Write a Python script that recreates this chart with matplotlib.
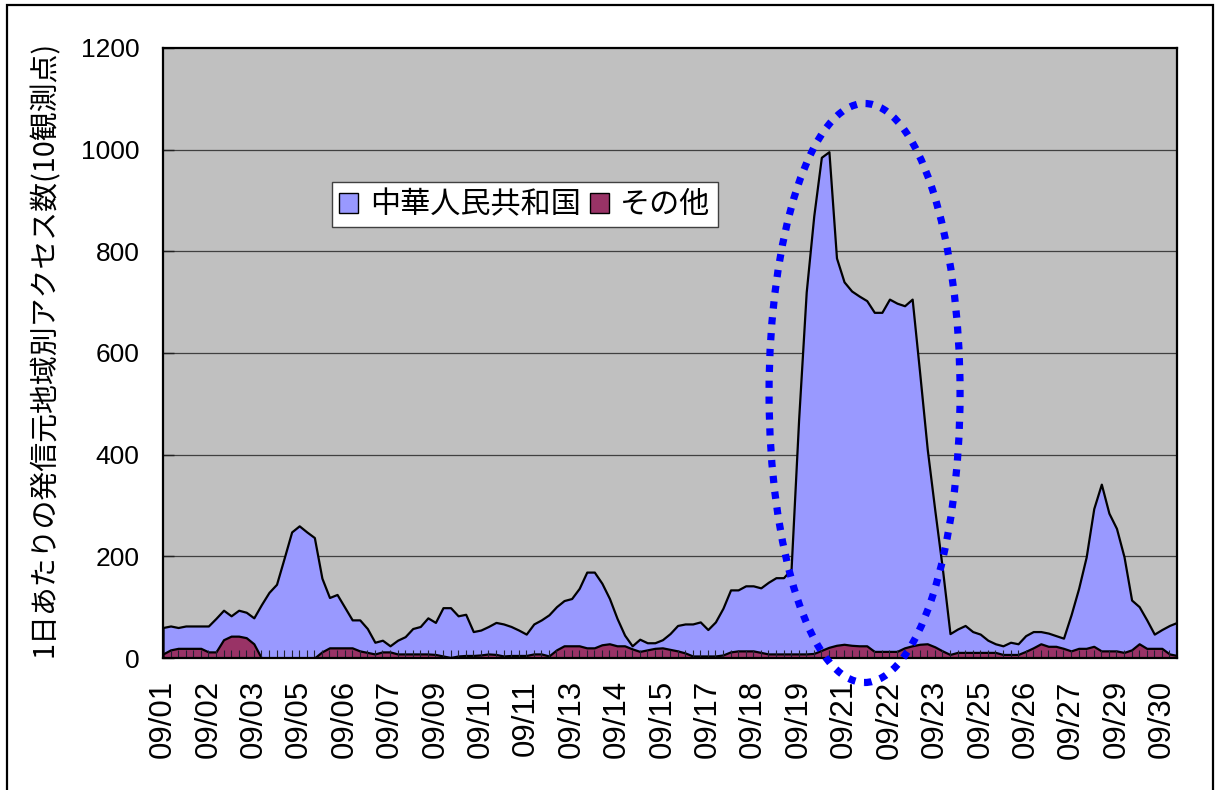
import matplotlib
matplotlib.use("Agg")
import matplotlib.pyplot as plt
import numpy as np
from matplotlib.patches import Ellipse, Rectangle, Patch
from matplotlib.font_manager import FontProperties

# Access counts per time slot (3 slots every 2 days -> 135 slots over 09/01..09/30)
china = [60, 63, 60, 63, 63, 63, 63, 78, 94, 83,
         94, 90, 79, 105, 129, 145, 196, 248, 260, 248,
         237, 157, 119, 125, 100, 75, 75, 58, 31, 35,
         24, 35, 42, 58, 62, 79, 70, 99, 99, 83,
         86, 52, 55, 62, 70, 67, 62, 55, 47, 67,
         75, 85, 101, 113, 117, 137, 169, 169, 147, 117,
         78, 45, 24, 37, 30, 30, 36, 48, 64, 67,
         67, 71, 56, 71, 98, 134, 134, 142, 142, 138,
         149, 158, 158, 175, 470, 720, 870, 985, 996, 787,
         740, 722, 712, 703, 680, 680, 706, 698, 693, 706,
         560, 410, 290, 175, 48, 57, 64, 52, 47, 35,
         28, 24, 31, 28, 44, 52, 52, 49, 44, 39,
         85, 137, 199, 294, 342, 285, 255, 199, 114, 101,
         75, 47, 56, 64, 70]

other = [8, 16, 19, 19, 19, 19, 12, 12, 36, 43,
         43, 40, 28, 0, 0, 0, 0, 0, 0, 0,
         0, 12, 20, 20, 20, 20, 14, 11, 8, 12,
         12, 8, 8, 8, 8, 8, 7, 4, 1, 4,
         5, 5, 6, 8, 7, 4, 5, 5, 5, 8,
         8, 4, 16, 24, 24, 24, 20, 20, 26, 28,
         24, 24, 18, 13, 16, 19, 20, 17, 14, 10,
         4, 4, 4, 4, 6, 12, 14, 14, 14, 11,
         8, 8, 8, 8, 8, 8, 9, 15, 21, 25,
         27, 25, 24, 24, 13, 13, 13, 13, 20, 24,
         27, 28, 22, 14, 7, 11, 11, 11, 11, 11,
         11, 7, 7, 7, 13, 20, 28, 23, 23, 19,
         14, 19, 19, 23, 14, 14, 14, 11, 16, 28,
         19, 19, 19, 8, 5]

date_labels = ["09/01", "09/02", "09/03", "09/05", "09/06", "09/07", "09/09",
               "09/10", "09/11", "09/13", "09/14", "09/15", "09/17", "09/18",
               "09/19", "09/21", "09/22", "09/23", "09/25", "09/26", "09/27",
               "09/29", "09/30"]
label_step = 6

series_names = ["中華人民共和国", "その他"]
y_ticks = [0, 200, 400, 600, 800, 1000, 1200]
y_title = "1日あたりの発信元地域別アクセス数(10観測点)"

BLUE = "#9999FF"
MAROON = "#993366"
PLOT_BG = "#C0C0C0"

plt.rcParams["font.family"] = ["Liberation Sans", "Noto Sans CJK JP", "DejaVu Sans"]

W, H = 1218, 790
fig = plt.figure(figsize=(W / 100, H / 100), dpi=100)
fig.patch.set_facecolor("white")

ax = fig.add_axes([163 / W, 1 - 658 / H, (1177 - 163) / W, (658 - 48) / H])
ax.set_facecolor(PLOT_BG)

x = np.arange(len(china))

# horizontal gridlines sit behind the areas
for v in y_ticks[1:-1]:
    ax.axhline(v, color="#404040", linewidth=0.9, zorder=0.5)

ax.fill_between(x, 0, china, facecolor=BLUE, edgecolor="black",
                linewidth=1.6, zorder=1)
ax.fill_between(x, 0, other, facecolor=MAROON, edgecolor="black",
                linewidth=1.6, zorder=1.1)

ax.set_xlim(0, len(china) - 1)
ax.set_ylim(y_ticks[0], y_ticks[-1])

ax.set_xticks(x)
xlabels = [""] * len(x)
for k, lab in enumerate(date_labels):
    xlabels[k * label_step] = lab
ax.set_xticklabels(xlabels, rotation=90)
ax.tick_params(axis="x", direction="in", length=6, width=0.8,
               color="#202030", pad=16, labelsize=22.5)

ax.set_yticks(y_ticks)
ax.set_yticklabels([str(v) for v in y_ticks])
ax.tick_params(axis="y", direction="in", length=8, width=1.0,
               color="#202020", pad=17, labelsize=19)

for s in ax.spines.values():
    s.set_color("black")
    s.set_linewidth(1.6)
    s.set_zorder(3)

# dotted highlight around the 09/21-09/22 surge
ring = Ellipse((92.71, 521.3), width=25.24, height=1139,
               transform=ax.transData, fill=False, edgecolor="#0000FF",
               linewidth=5.2, linestyle=(0, (1, 1.2)), clip_on=False,
               zorder=6)
ax.add_patch(ring)

handles = [Patch(facecolor=BLUE, edgecolor="black", linewidth=1.0),
           Patch(facecolor=MAROON, edgecolor="black", linewidth=1.0)]
leg = fig.legend(handles, series_names, loc="upper left",
                 bbox_to_anchor=(331.7 / W, 1 - 182 / H),
                 bbox_transform=fig.transFigure, ncol=2,
                 prop=FontProperties(family=["Noto Sans CJK JP", "DejaVu Sans"], size=21.7),
                 frameon=True, fancybox=False, edgecolor="#404040",
                 facecolor="white", framealpha=1, handlelength=0.64,
                 handleheight=0.64, handletextpad=0.38, columnspacing=0.3,
                 borderpad=0.24, borderaxespad=0)
leg.get_frame().set_linewidth(1.0)
leg.set_zorder(5)

fig.text(45 / W, 1 - 349 / H, y_title, rotation=90, ha="center", va="center",
         fontsize=20.8, family=["Noto Sans CJK JP", "DejaVu Sans"])

# outer frame of the chart area
fig.patches.append(Rectangle((7 / W, -0.05), (1213 - 7) / W, 1.05 - 5 / H,
                             transform=fig.transFigure, fill=False,
                             edgecolor="black", linewidth=1.6))

fig.savefig("out.png", dpi=100)
